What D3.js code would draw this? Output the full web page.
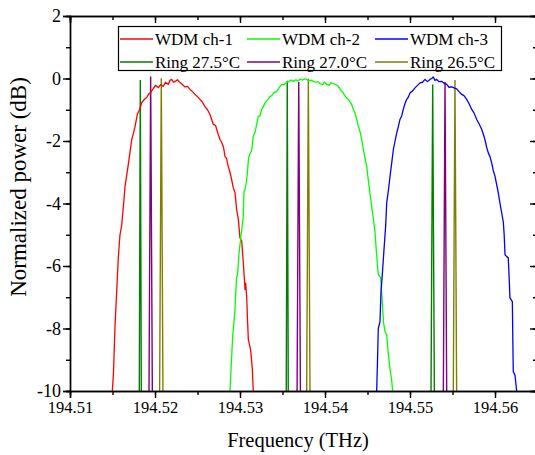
<!DOCTYPE html>
<html>
<head>
<meta charset="utf-8">
<script src="https://cdn.jsdelivr.net/npm/d3@7"></script>
<style>
  body { margin: 0; background: #fff; }
  svg { display: block; font-family: "Liberation Serif", "Times New Roman", serif; }
</style>
</head>
<body>
<svg id="chart" width="535" height="455"></svg>
<script>
// WDM channel spectra, frequency in THz, power in dB
const ch1Freq = [194.51498, 194.51512, 194.51529, 194.51549, 194.51568, 194.51588, 194.51608, 194.51635, 194.51647, 194.51686,
  194.51726, 194.51747, 194.51765, 194.51792, 194.51818, 194.51844, 194.51871, 194.51902, 194.51924, 194.51949,
  194.51980, 194.52006, 194.52039, 194.52065, 194.52098, 194.52124, 194.52156, 194.52176, 194.52196, 194.52218,
  194.52235, 194.52265, 194.52294, 194.52324, 194.52353, 194.52382, 194.52412, 194.52441, 194.52471, 194.52500,
  194.52529, 194.52559, 194.52588, 194.52618, 194.52647, 194.52686, 194.52712, 194.52745, 194.52765, 194.52785,
  194.52806, 194.52824, 194.52841, 194.52862, 194.52882, 194.52902, 194.52921, 194.52941, 194.52961, 194.52980,
  194.53000, 194.53020, 194.53039, 194.53051, 194.53059, 194.53067, 194.53079, 194.53088, 194.53098, 194.53126,
  194.53145, 194.53156]
const ch1Power = [-10, -9.4, -7.95, -6.85, -5.75, -5.0, -4.7, -3.88, -3.46, -2.75,
  -1.96, -1.75, -1.54, -1.15, -1.0, -0.77, -0.68, -0.61, -0.5, -0.45,
  -0.32, -0.22, -0.29, -0.2, -0.25, -0.12, -0.19, -0.06, -0.03, -0.12,
  -0.1, -0.04, -0.13, -0.2, -0.27, -0.25, -0.35, -0.42, -0.51, -0.58,
  -0.67, -0.76, -0.9, -1.0, -1.15, -1.47, -1.5, -1.8, -1.95, -2.05,
  -2.2, -2.5, -2.55, -2.82, -3.0, -3.24, -3.5, -3.65, -4.2, -4.5,
  -5.1, -5.2, -5.9, -6.4, -6.75, -6.55, -7.0, -7.7, -8.35, -8.7,
  -9.3, -10]

const ch2Freq = [194.52882, 194.52900, 194.52914, 194.52941, 194.52949, 194.52961, 194.52971, 194.52988, 194.53020, 194.53039,
  194.53047, 194.53059, 194.53076, 194.53088, 194.53100, 194.53118, 194.53138, 194.53156, 194.53176, 194.53194,
  194.53215, 194.53235, 194.53253, 194.53274, 194.53294, 194.53318, 194.53333, 194.53353, 194.53373, 194.53400,
  194.53432, 194.53459, 194.53491, 194.53518, 194.53549, 194.53576, 194.53600, 194.53627, 194.53659, 194.53682,
  194.53706, 194.53735, 194.53759, 194.53785, 194.53812, 194.53835, 194.53862, 194.53894, 194.53918, 194.53941,
  194.53971, 194.53994, 194.54020, 194.54047, 194.54071, 194.54098, 194.54129, 194.54156, 194.54188, 194.54215,
  194.54247, 194.54274, 194.54294, 194.54314, 194.54335, 194.54353, 194.54373, 194.54392, 194.54412, 194.54432,
  194.54447, 194.54459, 194.54474, 194.54491, 194.54509, 194.54518, 194.54535, 194.54549, 194.54565, 194.54580,
  194.54588, 194.54606, 194.54627, 194.54653, 194.54671, 194.54688, 194.54706, 194.54726, 194.54741, 194.54765,
  194.54782, 194.54796]
const ch2Power = [-10, -9.0, -8.26, -7.4, -6.9, -6.34, -6.3, -5.6, -4.84, -4.41,
  -3.6, -3.56, -3.3, -3.0, -2.55, -2.4, -2.3, -1.85, -1.73, -1.5,
  -1.21, -1.2, -1.0, -0.9, -0.78, -0.7, -0.65, -0.58, -0.55, -0.45,
  -0.41, -0.3, -0.19, -0.2, -0.12, -0.1, -0.05, -0.09, -0.04, -0.08,
  -0.02, -0.05, -0.01, -0.03, -0.08, -0.05, -0.09, -0.12, -0.1, -0.16,
  -0.2, -0.12, -0.19, -0.22, -0.13, -0.16, -0.2, -0.25, -0.38, -0.46,
  -0.6, -0.67, -0.75, -0.83, -1.0, -1.1, -1.3, -1.53, -1.7, -1.96,
  -2.2, -2.38, -2.6, -2.81, -3.24, -3.45, -3.8, -4.09, -4.4, -4.73,
  -4.9, -5.6, -6.28, -6.35, -7.0, -7.8, -8.1, -8.2, -8.7, -9.3,
  -9.6, -10]

const ch3Freq = [194.54608, 194.54618, 194.54627, 194.54647, 194.54659, 194.54674, 194.54698, 194.54714, 194.54726, 194.54745,
  194.54765, 194.54785, 194.54804, 194.54824, 194.54844, 194.54862, 194.54882, 194.54902, 194.54921, 194.54941,
  194.54961, 194.54980, 194.55000, 194.55029, 194.55059, 194.55088, 194.55118, 194.55147, 194.55176, 194.55206,
  194.55235, 194.55255, 194.55274, 194.55294, 194.55314, 194.55341, 194.55373, 194.55400, 194.55432, 194.55459,
  194.55491, 194.55518, 194.55549, 194.55576, 194.55608, 194.55635, 194.55667, 194.55694, 194.55726, 194.55753,
  194.55785, 194.55812, 194.55844, 194.55865, 194.55882, 194.55902, 194.55921, 194.55941, 194.55961, 194.55980,
  194.56000, 194.56020, 194.56039, 194.56059, 194.56079, 194.56098, 194.56108, 194.56118, 194.56138, 194.56156,
  194.56167, 194.56176, 194.56204, 194.56209, 194.56215, 194.56235, 194.56255]
const ch3Power = [-10, -9.0, -8.0, -7.78, -6.82, -6.28, -5.32, -4.7, -3.98, -3.6,
  -3.13, -2.7, -2.28, -2.0, -1.74, -1.55, -1.31, -1.2, -0.99, -0.8,
  -0.67, -0.6, -0.46, -0.4, -0.3, -0.22, -0.14, -0.12, -0.03, -0.1,
  -0.03, 0.0, 0.05, -0.06, -0.03, -0.1, -0.09, -0.15, -0.19, -0.28,
  -0.27, -0.3, -0.33, -0.42, -0.51, -0.55, -0.67, -0.8, -0.99, -1.1,
  -1.31, -1.45, -1.63, -1.8, -1.96, -2.2, -2.38, -2.5, -2.7, -2.95,
  -3.13, -3.4, -3.66, -4.0, -4.3, -4.6, -5.0, -5.64, -5.7, -5.74,
  -6.4, -7.02, -7.14, -8.2, -9.38, -9.49, -10]

// ring resonances: one peak per channel for each temperature
const ringLabels = ["Ring 27.5°C", "Ring 27.0°C", "Ring 26.5°C"]
const ringPeakFreq = [
  [194.51827, 194.53556, 194.55267],
  [194.51949, 194.53691, 194.55412],
  [194.52074, 194.53804, 194.55529]
]
const ringPeakPower = [
  [-0.05, -0.07, -0.19],
  [0.06, -0.11, -0.11],
  [0.01, -0.01, -0.05]
]
const ringHalfWidth = [
  [0.00012, 0.00012, 0.0002],
  [0.0002, 0.0002, 0.0002],
  [0.0002, 0.0002, 0.0002]
]   // THz at the -10 dB floor

const wdmLabels = ["WDM ch-1", "WDM ch-2", "WDM ch-3"]
const xTicks = [194.51, 194.52, 194.53, 194.54, 194.55, 194.56]
const yTicks = [-10, -8, -6, -4, -2, 0, 2]

const wdmColors = ["#ff0000", "#00ff00", "#0000ff"]
const ringColors = ["#008000", "#800080", "#808000"]

const mLeft = 70, mRight = 536, mTop = 16, mBottom = 391

const svg = d3.select("#chart")

const x = d3.scaleLinear()
  .domain([194.51, 194.51 + (mRight - mLeft) / 8500])
  .range([mLeft, mRight])
const y = d3.scaleLinear()
  .domain([-10, 2])
  .range([mBottom, mTop])

svg.append("clipPath").attr("id", "plot-clip")
  .append("rect")
    .attr("x", mLeft).attr("y", mTop)
    .attr("width", mRight - mLeft).attr("height", mBottom - mTop)

const line = d3.line()
  .x(d => x(d[0]))
  .y(d => y(d[1]))

const plot = svg.append("g").attr("clip-path", "url(#plot-clip)")

// ring peaks, drawn first so the WDM spectra sit on top
ringPeakFreq.forEach((peaks, i) => {
  peaks.forEach((f, j) => {
    const w = ringHalfWidth[i][j]
    plot.append("path")
      .attr("d", line([[f - w, -10.2], [f, ringPeakPower[i][j]], [f + w, -10.2]]))
      .attr("fill", "none")
      .attr("stroke", ringColors[i])
      .attr("stroke-width", 1.4)
  })
})

const spectra = [
  d3.zip(ch1Freq, ch1Power),
  d3.zip(ch2Freq, ch2Power),
  d3.zip(ch3Freq, ch3Power)
]
spectra.forEach((s, i) => {
  plot.append("path")
    .attr("d", line(s))
    .attr("fill", "none")
    .attr("stroke", wdmColors[i])
    .attr("stroke-width", 1.3)
    .attr("stroke-linejoin", "round")
})

// axes
const minorX = d3.range(194.505, 194.566, 0.005).filter(v => v > 194.5099 && v < x.domain()[1])
const minorY = d3.range(-10, 2.5, 1)

function styleAxis(g, size) {
  g.select(".domain").attr("stroke", "#000").attr("stroke-width", 1.4)
  g.selectAll(".tick line").attr("stroke", "#000").attr("stroke-width", 1.4)
  g.selectAll("text").attr("fill", "#000").attr("font-size", size || 16.5)
    .attr("font-family", "Liberation Serif, Times New Roman, serif")
}

svg.append("g").attr("transform", `translate(0,${mBottom})`)
  .call(d3.axisBottom(x).tickValues(minorX).tickSize(4).tickFormat(""))
  .call(styleAxis)
svg.append("g").attr("transform", `translate(0,${mBottom})`)
  .call(d3.axisBottom(x).tickValues(xTicks).tickSize(7).tickPadding(3).tickFormat(d3.format(".2f")))
  .call(styleAxis)

svg.append("g").attr("transform", `translate(0,${mTop})`)
  .call(d3.axisBottom(x).tickValues(minorX).tickSize(4).tickFormat(""))
  .call(styleAxis)
svg.append("g").attr("transform", `translate(0,${mTop})`)
  .call(d3.axisBottom(x).tickValues(xTicks).tickSize(7).tickFormat(""))
  .call(styleAxis)

svg.append("g").attr("transform", `translate(${mLeft},0)`)
  .call(d3.axisLeft(y).tickValues(minorY).tickSize(4).tickFormat(""))
  .call(styleAxis)
svg.append("g").attr("transform", `translate(${mLeft},0)`)
  .call(d3.axisLeft(y).tickValues(yTicks).tickSize(7).tickPadding(2).tickFormat(d => String(d)))
  .call(g => styleAxis(g, 18))

svg.append("g").attr("transform", `translate(${mRight},0)`)
  .call(d3.axisLeft(y).tickValues(minorY).tickSize(3).tickFormat(""))
  .call(styleAxis)
svg.append("g").attr("transform", `translate(${mRight},0)`)
  .call(d3.axisLeft(y).tickValues(yTicks).tickSize(6).tickFormat(""))
  .call(styleAxis)

// axis titles
svg.append("text")
  .attr("x", 298).attr("y", 447)
  .attr("text-anchor", "middle")
  .attr("font-size", 20.5)
  .text("Frequency (THz)")

svg.append("text")
  .attr("transform", "translate(26,187) rotate(-90)")
  .attr("text-anchor", "middle")
  .attr("font-size", 23)
  .text("Normalized power (dB)")

// legend
const legend = svg.append("g")
legend.append("rect")
  .attr("x", 118.5).attr("y", 26.5).attr("width", 383).attr("height", 44)
  .attr("fill", "#fff").attr("stroke", "#000").attr("stroke-width", 1.2)

const colX = [120, 247, 375]
const rowY = [39, 62]
const legendItems = wdmLabels.map((l, i) => ({ label: l, color: wdmColors[i], row: 0, col: i }))
  .concat(ringLabels.map((l, i) => ({ label: l, color: ringColors[i], row: 1, col: i })))

const item = legend.selectAll(".legend-item")
  .data(legendItems)
  .enter().append("g")
    .attr("class", "legend-item")
    .attr("transform", d => `translate(${colX[d.col]},${rowY[d.row]})`)
item.append("line")
  .attr("x1", 0).attr("x2", 33)
  .attr("stroke", d => d.color)
  .attr("stroke-width", 1.4)
item.append("text")
  .attr("x", 35).attr("dy", "0.33em")
  .attr("font-size", 17)
  .text(d => d.label)
</script>
</body>
</html>
